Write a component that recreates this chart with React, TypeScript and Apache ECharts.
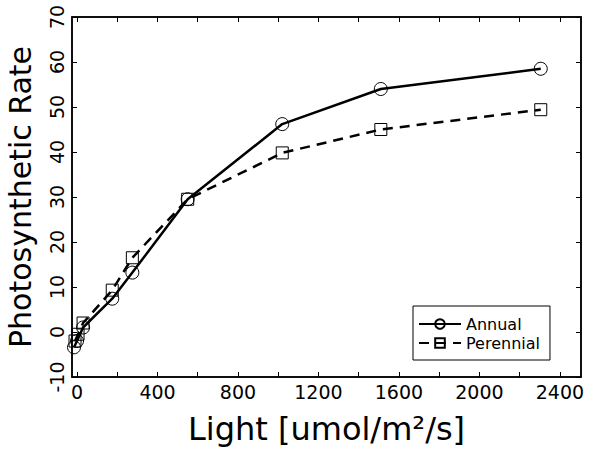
import React, { useEffect, useRef } from "react";
import * as echarts from "echarts";

const annualX = [-15, 0, 30, 175, 275, 550, 1020, 1510, 2305];
const annualY = [-3.4, -2, 1, 7.4, 13.2, 29.5, 46.2, 54, 58.5];
const perennialX = [-10, 5, 30, 175, 275, 550, 1020, 1510, 2305];
const perennialY = [-2, -0.5, 2, 9.3, 16.5, 29.5, 39.8, 45, 49.4];
const xTickLabels = [0, 400, 800, 1200, 1600, 2000, 2400];
const xMinorTicks = [0, 200, 400, 600, 800, 1000, 1200, 1400, 1600, 1800, 2000, 2200, 2400];

const FONT = "DejaVu Sans";

export default function App() {
  const ref = useRef<HTMLDivElement>(null);
  useEffect(() => {
    const chart = echarts.init(ref.current!, null, { renderer: "svg" });
    const axisLine = { show: true, onZero: false, lineStyle: { color: "#000", width: 1.5 } };
    chart.setOption({
      animation: false,
      backgroundColor: "#fff",
      grid: {
        left: 72,
        right: 29,
        top: 17,
        bottom: 74,
        show: true,
        borderColor: "#000",
        borderWidth: 1.5,
        containLabel: false,
        outerBoundsMode: "none",
      },
      legend: {
        left: 413,
        top: 306,
        orient: "vertical",
        borderColor: "#000",
        borderWidth: 1,
        padding: [10, 10, 9, 5],
        itemGap: 3,
        itemWidth: 42,
        itemHeight: 12,
        textStyle: { fontFamily: FONT, fontSize: 16, color: "#000" },
        data: ["Annual", "Perennial"],
      },
      xAxis: [
        {
          type: "value",
          min: -25,
          max: 2505,
          axisLine,
          axisTick: { show: true, inside: true, length: 5, customValues: xMinorTicks, lineStyle: { color: "#000" } },
          axisLabel: {
            customValues: xTickLabels,
            formatter: (v: number) => String(v),
            fontFamily: FONT,
            fontSize: 19,
            color: "#000",
            margin: 5,
          },
          splitLine: { show: false },
          name: "Light [umol/m²/s]",
          nameLocation: "middle",
          nameGap: 36,
          nameTextStyle: { fontFamily: FONT, fontSize: 32, color: "#000" },
        },
        {
          type: "value",
          position: "top",
          min: -25,
          max: 2505,
          axisLine,
          axisTick: { show: true, inside: true, length: 5, customValues: xMinorTicks, lineStyle: { color: "#000" } },
          axisLabel: { show: false },
          splitLine: { show: false },
        },
      ],
      yAxis: [
        {
          type: "value",
          min: -10,
          max: 70,
          interval: 10,
          axisLine,
          axisTick: { show: true, inside: true, length: 5, lineStyle: { color: "#000" } },
          axisLabel: { rotate: 90, fontFamily: FONT, fontSize: 19, color: "#000", margin: 6 },
          splitLine: { show: false },
          name: "Photosynthetic Rate",
          nameLocation: "middle",
          nameGap: 37,
          nameTextStyle: { fontFamily: FONT, fontSize: 30, color: "#000" },
        },
        {
          type: "value",
          position: "right",
          min: -10,
          max: 70,
          interval: 10,
          axisLine,
          axisTick: { show: true, inside: true, length: 5, lineStyle: { color: "#000" } },
          axisLabel: { show: false },
          splitLine: { show: false },
        },
      ],
      series: [
        {
          name: "Annual",
          type: "line",
          data: annualX.map((x, i) => [x, annualY[i]]),
          symbol: "circle",
          symbolSize: 13,
          showSymbol: true,
          itemStyle: { color: "rgba(255,255,255,0)", borderColor: "#000", borderWidth: 1 },
          lineStyle: { color: "#000", width: 2.5 },
        },
        {
          name: "Perennial",
          type: "line",
          data: perennialX.map((x, i) => [x, perennialY[i]]),
          symbol: "rect",
          symbolSize: 12,
          showSymbol: true,
          itemStyle: { color: "rgba(255,255,255,0)", borderColor: "#000", borderWidth: 1 },
          lineStyle: { color: "#000", width: 2.5, type: [10, 7] },
        },
      ],
    });
    return () => chart.dispose();
  }, []);
  return <div ref={ref} style={{ width: 610, height: 451, position: "absolute", left: 0, top: 0 }} />;
}
